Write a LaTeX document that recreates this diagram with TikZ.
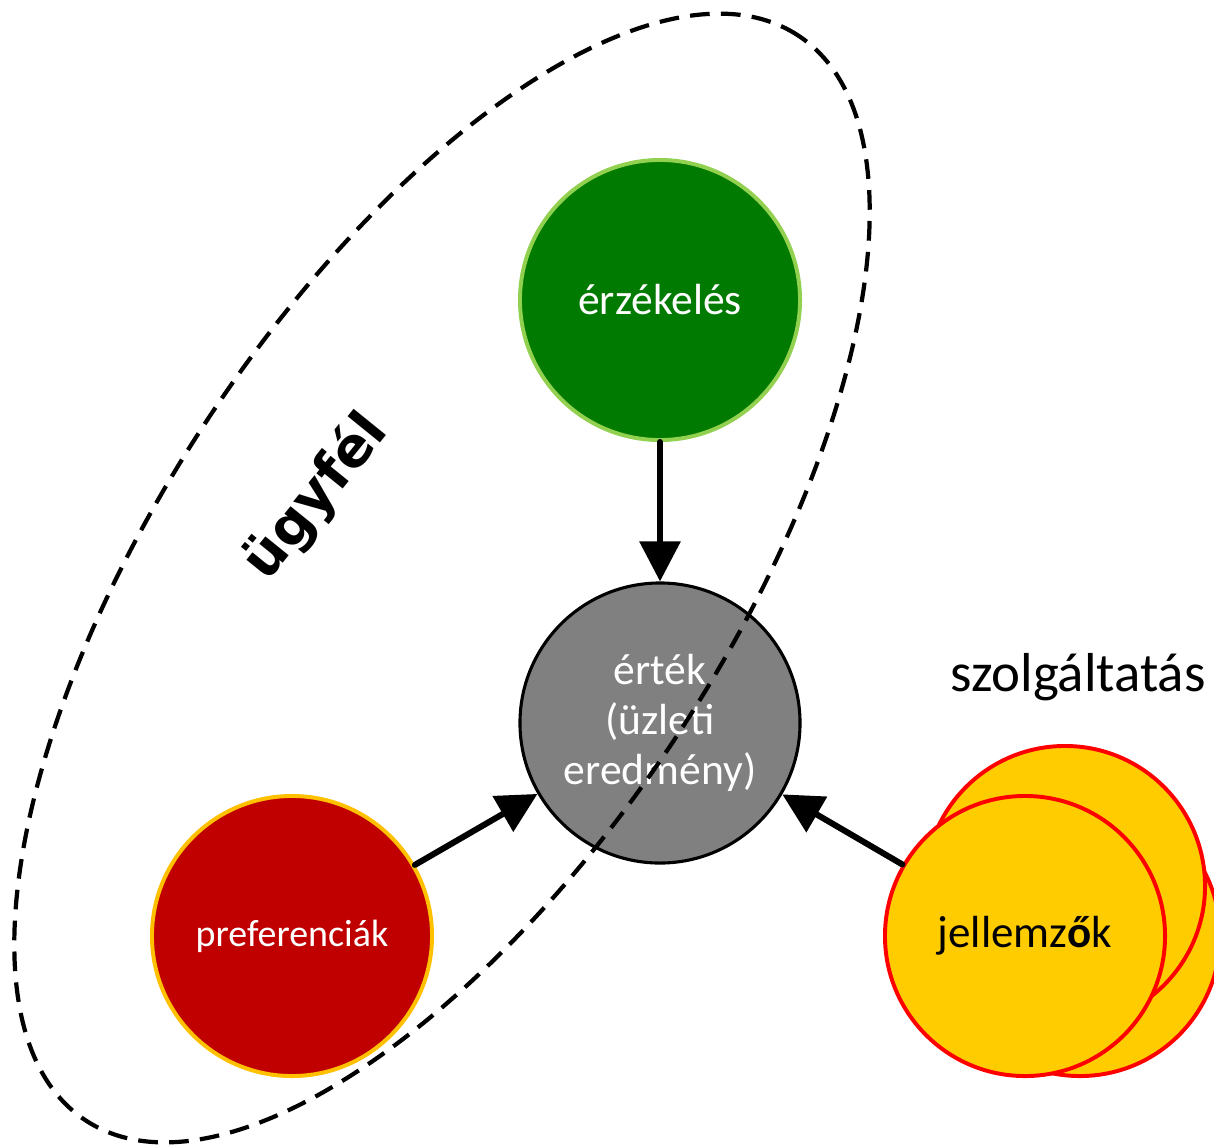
\documentclass[tikz,border=0pt]{standalone}
\usepackage{fontspec}
\setmainfont{Carlito}
\newfontfamily\tagfont{DejaVu Sans}
\usetikzlibrary{arrows.meta}
\definecolor{senseGreen}{RGB}{0,122,0}
\definecolor{senseRim}{RGB}{146,208,80}
\definecolor{prefRed}{RGB}{192,0,0}
\definecolor{prefRim}{RGB}{255,192,0}
\definecolor{featYellow}{RGB}{255,204,0}
\definecolor{featRim}{RGB}{255,0,0}
\definecolor{valueGray}{RGB}{128,128,128}
\tikzset{
  blob/.style={circle,minimum size=7cm,inner sep=0pt,align=center,line width=2.8pt},
  flow/.style={line width=4.3pt,-{Triangle[length=1cm,width=1cm]}},
}
\begin{document}
\begin{tikzpicture}[x=0.025cm,y=0.025cm,line cap=round,line join=round]
  \useasboundingbox (0,0) rectangle (1214,-1146);
  % service stack behind the front circle
  \node[blob,fill=featYellow,draw=featRim] (back2) at (1080,-936) {};
  \node[blob,fill=featYellow,draw=featRim] (back1) at (1065,-886) {};
  \node[blob,fill=featYellow,draw=featRim,font=\fontsize{32}{38}\selectfont] (feat) at (1025,-936) {jellemz{\bfseries ő}k};
  % customer side
  \node[blob,fill=senseGreen,draw=senseRim,text=white,font=\fontsize{31}{36}\selectfont] (sense) at (660,-300) {érzékelés};
  \node[blob,fill=prefRed,draw=prefRim,text=white,font=\fontsize{27}{32}\selectfont] (pref) at (292,-936) {preferenciák};
  \node[blob,fill=valueGray,draw=black,line width=2.2pt,text=white,font=\fontsize{31}{35.5}\selectfont] (value) at (660,-723) {érték\\(üzleti\\eredmény)};
  % connectors
  \draw[flow] (sense) -- (value);
  \draw[flow] (pref) -- (value);
  \draw[flow] (feat) -- (value);
  % customer boundary
  \draw[line width=3pt,dash pattern=on 14pt off 8pt,line cap=butt,rotate around={56.7:(442,-578)}]
    (442,-578) ellipse[x radius=649,y radius=283];
  \node[rotate=51,font=\tagfont\bfseries\fontsize{39}{48}\selectfont] (cust) at (316,-497) {ügyfél};
  \node[font=\fontsize{39}{46}\selectfont] (serv) at (1078,-677) {szolgáltatás};
\end{tikzpicture}
\end{document}
